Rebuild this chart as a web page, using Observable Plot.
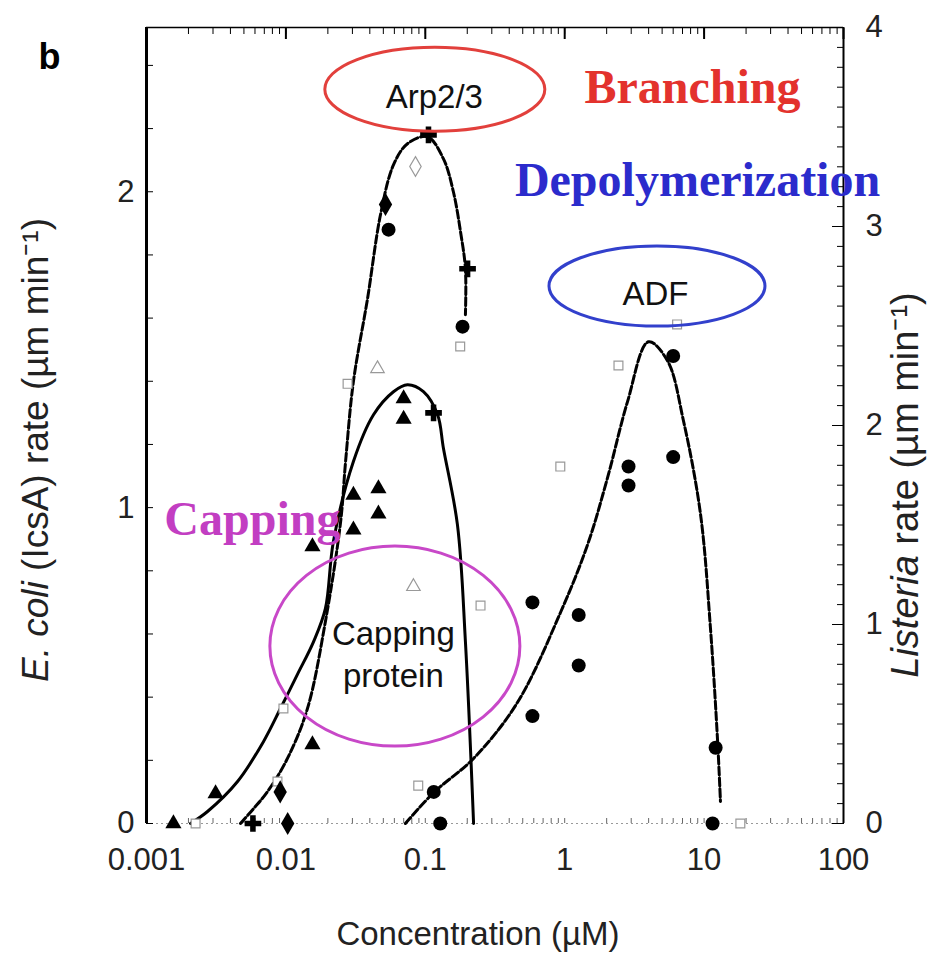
<!DOCTYPE html>
<html><head><meta charset="utf-8">
<script src="https://cdn.jsdelivr.net/npm/d3@7"></script>
<script src="https://cdn.jsdelivr.net/npm/@observablehq/plot@0.6"></script>
<style>body{margin:0;background:#fff} svg{display:block}</style>
</head><body><div id="chart"></div>
<script>
// ---- axes ----
const xTickValues = [0.001, 0.01, 0.1, 1, 10, 100];
const xTickLabels = ["0.001", "0.01", "0.1", "1", "10", "100"];
const leftTickValues = [0, 1, 2];
const rightTickValues = [0, 1, 2, 3, 4];
const leftMax = 2.52;   // E. coli axis top
const rightMax = 4;     // Listeria axis top

// ---- fitted curves ----
const arpCurve = [[0.00472,0],[0.00586,0.047],[0.00738,0.101],[0.01026,0.206],[0.01428,0.364],[0.0192,0.639],[0.0247,0.956],[0.0268,1.146],[0.0305,1.399],[0.0385,1.661],[0.0477,1.927],[0.0591,2.085],[0.0745,2.152],[0.1037,2.174],[0.135,2.104],[0.159,2.0],[0.179,1.873],[0.194,1.756],[0.194,1.611]];
const capCurve = [[0.00207,0],[0.00274,0.038],[0.0045,0.133],[0.0069,0.259],[0.00914,0.364],[0.0121,0.472],[0.0158,0.576],[0.0192,0.68],[0.0219,0.892],[0.0305,1.146],[0.0425,1.294],[0.0591,1.367],[0.0745,1.389],[0.097,1.367],[0.1225,1.294],[0.135,1.187],[0.17,0.946],[0.194,0.576],[0.222,0]];
const adfCurve = [[0.072,0],[0.115,0.098],[0.222,0.206],[0.458,0.383],[0.933,0.668],[1.46,0.883],[2.03,1.095],[2.82,1.335],[3.99,1.525],[5.46,1.465],[7.11,1.275],[9.42,0.98],[11.1,0.62],[12.5,0.26],[13.1,0.07]];

// ---- data points ----
const filledCircles = [[6.0,1.48],[2.87,1.13],[2.87,1.07],[6.0,1.16],[0.587,0.70],[1.26,0.66],[1.26,0.50],[0.587,0.34],[12.1,0.24],[0.115,0.10],[0.128,0],[11.5,0],[0.0545,1.88],[0.185,1.573]];
const filledDiamonds = [[0.0518,1.96],[0.0103,0],[0.0091,0.10]];
const filledCrosses = [[0.1054,2.18],[0.201,1.756],[0.0058,0],[0.1146,1.30]];
const filledTriangles = [[0.0699,1.345],[0.0699,1.28],[0.0155,0.877],[0.0305,0.93],[0.0305,1.04],[0.0461,0.98],[0.0461,1.06],[0.0155,0.25],[0.00313,0.095],[0.00156,0]];
const openSquares = [[6.4,1.58],[2.43,1.45],[0.93,1.13],[0.249,0.69],[0.089,0.12],[18.2,0],[0.178,1.51],[0.0277,1.392],[0.0096,0.364],[0.0087,0.133],[0.00225,0]];
const openDiamonds = [[0.085,2.08]];
const openTriangles = [[0.0454,1.44],[0.0822,0.75]];

// ---- annotations (data coordinates) ----
const ellipses = [
  {x:0.118, y:2.323, rx:110, ry:42, color:"#e2403c"},
  {x:4.63, y:1.70, rx:108, ry:40, color:"#3240cc"},
  {x:0.061, y:0.56, rx:125, ry:100, color:"#c848c8"}
];
const proteinLabels = [
  {x:0.116, y:2.30, text:"Arp2/3"},
  {x:4.48, y:1.675, text:"ADF"},
  {x:0.059, y:0.60, text:"Capping"},
  {x:0.059, y:0.465, text:"protein"}
];
const roleLabels = [
  {x:8.26, y:2.33, text:"Branching", color:"#e3322d"},
  {x:8.97, y:2.035, text:"Depolymerization", color:"#2b2bcc"},
  {x:0.00575, y:0.962, text:"Capping", color:"#c23ec2"}
];

const minorX = [];
for (let e = -3; e < 2; e++) for (let m = 1; m < 10; m++) minorX.push(m * Math.pow(10, e));
minorX.push(100);
const k = leftMax / rightMax;
const leftMinor = d3.range(0, leftMax, 0.2);
const rightMinor = d3.range(0, rightMax + 0.001, 0.1).map(v => v * k);

const sans = "Liberation Sans, Arial, sans-serif";
const serif = "Liberation Serif, Times New Roman, serif";
const X = d => d[0], Y = d => d[1];

const chart = Plot.plot({
  width: 942, height: 953,
  marginLeft: 146, marginRight: 99, marginTop: 27, marginBottom: 130,
  style: {fontFamily: sans, fontSize: "30px", background: "#fff", overflow: "visible"},
  x: {type: "log", domain: [0.001, 100]},
  y: {domain: [0, leftMax]},
  marks: [
    Plot.ruleY([0], {stroke: "#999", strokeDasharray: "2,3"}),
    Plot.axisX({anchor: "bottom", label: null, ticks: minorX, tickSize: -5, tickFormat: () => "", stroke: "#666"}),
    Plot.axisX({anchor: "bottom", label: null, ticks: xTickValues, tickSize: 0, tickPadding: 24, fontSize: 31, fill: "#222", tickFormat: d => xTickLabels[xTickValues.indexOf(d)]}),
    Plot.axisX({anchor: "top", label: null, ticks: minorX, tickSize: -6, tickFormat: () => ""}),
    Plot.axisX({anchor: "top", label: null, ticks: xTickValues, tickSize: -11, tickFormat: () => "", strokeWidth: 2}),
    Plot.ruleY([leftMax], {strokeWidth: 1.5}),
    Plot.ruleX([0.001], {strokeWidth: 3}),
    Plot.ruleX([100], {strokeWidth: 2}),
    Plot.axisY({anchor: "left", label: null, ticks: leftMinor, tickSize: -7, tickFormat: () => ""}),
    Plot.axisY({anchor: "left", label: null, ticks: leftTickValues, tickSize: 0, tickPadding: 12, fontSize: 31, fill: "#222", tickFormat: d => String(d)}),
    Plot.axisY({anchor: "right", label: null, ticks: rightMinor, tickSize: -7, tickFormat: () => ""}),
    Plot.axisY({anchor: "right", label: null, ticks: rightTickValues.map(v => v * k), tickSize: -12, tickPadding: 34, fontSize: 31, fill: "#222", tickFormat: d => String(Math.round(d / k))}),
    // curves
    Plot.line(capCurve, {x: X, y: Y, curve: "catmull-rom", strokeWidth: 3, stroke: "#000"}),
    Plot.line(arpCurve, {x: X, y: Y, curve: "catmull-rom", strokeWidth: 3, stroke: "#000", strokeDasharray: "8,3"}),
    Plot.line(adfCurve, {x: X, y: Y, curve: "catmull-rom", strokeWidth: 3, stroke: "#000", strokeDasharray: "8,3"}),
    // points
    Plot.dot(openSquares, {x: X, y: Y, symbol: "square", r: 5, fill: "#fff", stroke: "#999", strokeWidth: 1.2}),
    Plot.dot(openDiamonds, {x: X, y: Y, symbol: "diamond", r: 6, fill: "#fff", stroke: "#999", strokeWidth: 1.2}),
    Plot.dot(openTriangles, {x: X, y: Y, symbol: "triangle", r: 5, fill: "#fff", stroke: "#999", strokeWidth: 1.2}),
    Plot.dot(filledCircles, {x: X, y: Y, symbol: "circle", r: 7, fill: "#000"}),
    Plot.dot(filledDiamonds, {x: X, y: Y, symbol: "diamond", r: 7, fill: "#000"}),
    Plot.dot(filledCrosses, {x: X, y: Y, symbol: "cross", r: 7, fill: "#000"}),
    Plot.dot(filledTriangles, {x: X, y: Y, symbol: "triangle", r: 6, fill: "#000"}),
    // labels
    Plot.text(proteinLabels, {x: "x", y: "y", text: "text", fontSize: 33, fill: "#111"}),
    Plot.text(roleLabels, {x: "x", y: "y", text: "text", fill: "color", fontSize: 48, fontWeight: "bold", fontFamily: serif}),
    Plot.text(["b"], {frameAnchor: "top-left", dx: -108, dy: 16, fontSize: 36, fontWeight: "bold"})
  ]
});

const svg = d3.select(chart);
const xs = chart.scale("x"), ys = chart.scale("y");
svg.selectAll("ellipse.ann").data(ellipses).join("ellipse")
  .attr("class", "ann")
  .attr("cx", d => xs.apply(d.x)).attr("cy", d => ys.apply(d.y))
  .attr("rx", d => d.rx).attr("ry", d => d.ry)
  .attr("fill", "none").attr("stroke", d => d.color).attr("stroke-width", 3);

// axis titles
const lt = svg.append("text").attr("transform", "translate(48,450) rotate(-90)")
  .attr("text-anchor", "middle").attr("font-size", 37).attr("font-family", sans).attr("fill", "#222");
lt.append("tspan").attr("font-style", "italic").text("E. coli");
lt.append("tspan").text(" (IcsA) rate (µm min⁻¹)");
const rt = svg.append("text").attr("transform", "translate(918,485) rotate(-90)")
  .attr("text-anchor", "middle").attr("font-size", 38).attr("font-family", sans).attr("fill", "#222");
rt.append("tspan").attr("font-style", "italic").text("Listeria");
rt.append("tspan").text(" rate (µm min⁻¹)");
svg.append("text").attr("x", 478).attr("y", 945).attr("text-anchor", "middle")
  .attr("font-size", 33).attr("font-family", sans).attr("fill", "#222").text("Concentration (µM)");

document.getElementById("chart").appendChild(chart);
</script></body></html>
